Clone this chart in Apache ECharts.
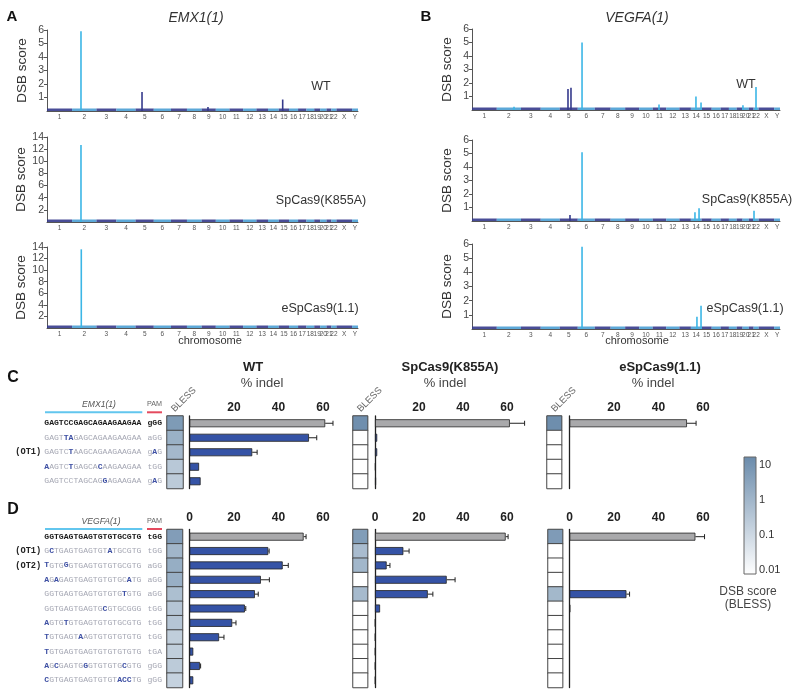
<!DOCTYPE html>
<html><head><meta charset="utf-8">
<script src="https://cdn.jsdelivr.net/npm/echarts@6/dist/echarts.min.js"></script>
<style>html,body{margin:0;padding:0;background:#fff}#c{width:800px;height:697px}</style>
</head><body><div id="c"></div>
<script>
// ================= DATA =================
const chromNames = ['1','2','3','4','5','6','7','8','9','10','11','12','13','14','15','16','17','18','19','20','21','22','X','Y'];
const chromLengthsMb = [249,243,198,191,181,171,159,146,141,136,135,133,115,107,102,90,83,78,59,63,48,51,155,59];

// genome-wide DSB spikes: [cumulative genome position (Mb), DSB score, group (0 light / 1 dark)]
const emx1WT     = [[338,5.9,0],[945,1.4,1],[2344,0.85,1],[1601,0.3,1]];
const emx1K855A  = [[338,12.7,0]];
const emx1eSp    = [[341,13.6,0]];
const vegfaWT    = [[422,0.25,0],[964,1.55,1],[994,1.65,1],[1105,5.0,0],[1878,0.4,0],[2249,1.0,0],[2300,0.55,0],[2721,0.35,0],[2852,1.7,0]];
const vegfaK855A = [[984,0.45,1],[1105,5.09,0],[2239,0.64,0],[2280,0.94,0],[2832,0.76,0]];
const vegfaeSp   = [[1105,5.8,0],[2259,0.87,0],[2300,1.64,0]];

const variants = ['WT','SpCas9(K855A)','eSpCas9(1.1)'];
const indelTicks = [0,20,40,60];

// Panel C: EMX1(1)
const emx1Seqs = ['GAGTCCGAGCAGAAGAAGAA','GAGTTAGAGCAGAAGAAGAA','GAGTCTAAGCAGAAGAAGAA','AAGTCTGAGCACAAGAAGAA','GAGTCCTAGCAGGAGAAGAA'];
const emx1Mism = [[],[4,5],[5],[0,5,11],[12]];
const emx1Pam = ['gGG','aGG','gAG','tGG','gAG'];
const emx1PamMism = [[],[],[1],[],[1]];
const emx1Names = ['','','(OT1)','',''];
const emx1IndelWT = [61,53.7,28.2,4.3,5];
const emx1ErrWT = [3.5,3.5,2.2,0,0];
const emx1IndelK855A = [61.3,1,1,0.3,0.5];
const emx1ErrK855A = [6.7,0,0,0,0];
const emx1IndeleSp = [52.8,0,0,0,0];
const emx1ErreSp = [4.1,0,0,0,0];
const emx1BlessWT = [5.9,1.4,0.85,0.3,0.25];
const emx1BlessK855A = [12.7,0,0,0,0];
const emx1BlesseSp = [13.6,0,0,0,0];

// Panel D: VEGFA(1)
const vegfaSeqs = ['GGTGAGTGAGTGTGTGCGTG','GCTGAGTGAGTGTATGCGTG','TGTGGGTGAGTGTGTGCGTG','AGAGAGTGAGTGTGTGCATG','GGTGAGTGAGTGTGTGTGTG','GGTGAGTGAGTGCGTGCGGG','AGTGTGTGAGTGTGTGCGTG','TGTGAGTAAGTGTGTGTGTG','TGTGAGTGAGTGTGTGTGTG','AGCGAGTGGGTGTGTGCGTG','CGTGAGTGAGTGTGTACCTG'];
const vegfaMism = [[],[1,13],[0,4],[0,2,17],[16],[12],[0,4],[0,7],[0],[0,2,8,16],[0,15,16,17]];
const vegfaPam = ['tGG','tGG','aGG','aGG','aGG','tGG','tGG','tGG','tGA','gGG','gGG'];
const vegfaPamMism = [[],[],[],[],[],[],[],[],[],[],[]];
const vegfaNames = ['','(OT1)','(OT2)','','','','','','','',''];
const vegfaIndelWT = [51.3,35.4,41.9,32.1,29.4,24.9,19.2,13.3,1.7,4.7,1.7];
const vegfaErrWT = [1.1,0.4,2.5,3.8,1.5,0.4,1.7,2.2,0,0.3,0];
const vegfaIndelK855A = [59.4,12.9,5.3,32.6,24,2.3,0.2,0.2,0.2,0.2,0.2];
const vegfaErrK855A = [1.1,2.6,1.5,3.8,2.3,0,0,0,0,0,0];
const vegfaIndeleSp = [56.6,0,0,0,25.6,0.3,0,0,0,0,0];
const vegfaErreSp = [4.1,0,0,0,1.4,0,0,0,0,0,0];
const vegfaBlessWT = [5.0,1.0,1.7,1.55,0.55,0.35,0.35,0.2,0.2,0.25,0.15];
const vegfaBlessK855A = [5.1,0.64,0.94,0,0.76,0,0,0,0,0,0];
const vegfaBlesseSp = [5.8,0,0,0,0.87,0,0,0,0,0,0];

// colour bar (BLESS DSB score, log scale)
const cbTicks = [10,1,0.1,0.01];
const cbTickLabels = ['10','1','0.1','0.01'];
const cbMinScore = 0.0077;
const cbMaxScore = 16.9;

// ================= BUILD =================
const FONT = '"Liberation Sans", Arial, Helvetica, sans-serif';
const MONO = '"Liberation Mono", "DejaVu Sans Mono", monospace';
const LIGHT = '#3bb6e6', DARK = '#353a8c';
const GRAY = '#a9a9ab', BLUE = '#3553a6';

const grids=[], xAxes=[], yAxes=[], series=[], graphics=[], heatIdx=[];

const chromStarts=[]; let acc=0;
chromLengthsMb.forEach(l=>{chromStarts.push(acc); acc+=l;});
const genomeTotal = acc;
const chromCenters = chromLengthsMb.map((l,i)=>chromStarts[i]+l/2);

function chromPanel(o){
  const gi = grids.length;
  grids.push({left:o.left, top:o.top, width:o.width, height:o.height});
  xAxes.push({gridIndex:gi, type:'value', min:0, max:genomeTotal, splitLine:{show:false},
    axisLine:{lineStyle:{color:'#555',width:1}}, axisTick:{show:false},
    axisLabel:{customValues:chromCenters, fontSize:6.5, color:'#555', margin:3,
      formatter:v=>{const i=chromCenters.findIndex(c=>Math.abs(c-v)<1e-6); return i>=0?chromNames[i]:'';}}});
  yAxes.push({gridIndex:gi, type:'value', min:0, max:o.ymax, interval:o.yint, splitLine:{show:false},
    axisLine:{show:true,lineStyle:{color:'#555'}}, axisTick:{show:true,length:3,lineStyle:{color:'#555'}},
    axisLabel:{showMinLabel:false, fontSize:10.5, color:'#444', margin:3},
    name:'DSB score', nameLocation:'middle', nameGap:18, nameTextStyle:{fontSize:13.5,color:'#333'}});
  series.push({type:'custom', xAxisIndex:gi, yAxisIndex:gi, silent:true,
    data: chromLengthsMb.map((l,i)=>[chromStarts[i], chromStarts[i]+l, i]),
    renderItem:(p,api)=>{
      const a=api.coord([api.value(0),0]), b=api.coord([api.value(1),0]);
      return {type:'rect', shape:{x:a[0], y:a[1]-2.5, width:b[0]-a[0], height:2.5},
        style:{fill: api.value(2)%2 ? '#4a9fd4' : DARK, opacity:0.9}};
    }});
  series.push({type:'custom', xAxisIndex:gi, yAxisIndex:gi, silent:true, data:o.spikes,
    renderItem:(p,api)=>{
      const a=api.coord([api.value(0),0]), b=api.coord([api.value(0),api.value(1)]);
      return {type:'line', shape:{x1:a[0],y1:a[1],x2:b[0],y2:b[1]},
        style:{stroke: api.value(2) ? DARK : LIGHT, lineWidth:1.6}};
    }});
}

function barPanel(o){
  const gi = grids.length;
  grids.push({left:o.left, top:o.top, width:o.width, height:o.height});
  xAxes.push({gridIndex:gi, type:'value', position:'top', min:0, max:65, offset:o.offset||0,
    splitLine:{show:false}, axisLine:{lineStyle:{color:'#333',width:1}},
    axisTick:{customValues:indelTicks, length:6, lineStyle:{color:'#333'}},
    axisLabel:{customValues:o.labelTicks, fontSize:12, fontWeight:'bold', color:'#222', margin:2}});
  yAxes.push({gridIndex:gi, type:'category', inverse:true, data:o.values.map((_,i)=>'r'+i),
    axisLine:{show:true,lineStyle:{color:'#222',width:1.3}}, axisTick:{show:false},
    axisLabel:{show:false}, splitLine:{show:false}});
  series.push({type:'bar', xAxisIndex:gi, yAxisIndex:gi, data:o.values, barWidth:8, silent:true,
    itemStyle:{color:p=>p.dataIndex===0?GRAY:BLUE, borderColor:'#222', borderWidth:0.8}});
  series.push({type:'custom', xAxisIndex:gi, yAxisIndex:gi, silent:true,
    data:o.values.map((v,i)=>[v,i,o.errs[i]]).filter(d=>d[2]>0),
    renderItem:(p,api)=>{
      const v=api.value(0), r=api.value(1), e=api.value(2);
      const a=api.coord([v,r]), b=api.coord([v+e,r]);
      return {type:'group', children:[
        {type:'line', shape:{x1:a[0],y1:a[1],x2:b[0],y2:b[1]}, style:{stroke:'#222',lineWidth:1}},
        {type:'line', shape:{x1:b[0],y1:b[1]-2.5,x2:b[0],y2:b[1]+2.5}, style:{stroke:'#222',lineWidth:1}}]};
    }});
}

const RICH = {
  t:{fontFamily:MONO,fontSize:8.1,fontWeight:'bold',color:'#1a1a1a'},
  g:{fontFamily:MONO,fontSize:8.1,color:'#a6a8b4'},
  m:{fontFamily:MONO,fontSize:8.1,fontWeight:'bold',color:'#3d4fa3'},
  o:{fontFamily:MONO,fontSize:8.7,fontWeight:'bold',color:'#222'},
  s:{fontFamily:MONO,fontSize:5},
  p:{fontFamily:MONO,fontSize:10}
};
function seqLabel(seq, mism, pam, pamMism, isTarget, name){
  const seg=(str,hl)=>{
    let r='', cur=null, buf='';
    for(let i=0;i<str.length;i++){
      const st = isTarget?'t':(hl.includes(i)?'m':'g');
      if(st!==cur){ if(buf) r+='{'+cur+'|'+buf+'}'; cur=st; buf=''; }
      buf+=str[i];
    }
    if(buf) r+='{'+cur+'|'+buf+'}';
    return r;
  };
  let out='';
  if(name) out+='{o|'+name+'}{s| }';
  return out + seg(seq,mism) + '{p| }' + seg(pam,pamMism);
}

function blessPanel(o){
  const gi = grids.length;
  grids.push({left:o.left, top:o.top, width:o.width, height:o.height});
  xAxes.push({gridIndex:gi, type:'category', position:'top', data:['BLESS'],
    axisLine:{show:false}, axisTick:{show:false}, splitLine:{show:false}, axisLabel:{show:false}});
  yAxes.push({gridIndex:gi, type:'category', inverse:true, data:o.scores.map((_,i)=>'r'+i),
    axisLine:{show:false}, axisTick:{show:false}, splitLine:{show:false},
    axisLabel:{show:!!o.labels, interval:0, hideOverlap:false, margin:5, rich:RICH,
      formatter:(v,i)=>o.labels?o.labels[i]:''}});
  heatIdx.push(series.length);
  series.push({type:'heatmap', xAxisIndex:gi, yAxisIndex:gi, silent:true,
    data:o.scores.map((s,i)=>[0,i,Math.log10(Math.max(s,cbMinScore))]),
    itemStyle:{borderColor:'#444',borderWidth:1}, emphasis:{disabled:true}});
  if(o.header){
    graphics.push({type:'text', x:o.left+6, y:o.top-5.5, rotation:Math.PI/4, silent:true,
      style:{text:'BLESS', fontSize:9.5, fontFamily:FONT, fill:'#666', align:'left', verticalAlign:'middle'}});
  }
}

// ---- Panel A / B ----
chromPanel({left:47, top:30, width:311, height:81, ymax:6, yint:1, spikes:emx1WT});
chromPanel({left:47, top:137, width:311, height:85, ymax:14, yint:2, spikes:emx1K855A});
chromPanel({left:47, top:247, width:311, height:81, ymax:14, yint:2, spikes:emx1eSp});
chromPanel({left:472, top:29, width:308, height:81, ymax:6, yint:1, spikes:vegfaWT});
chromPanel({left:472, top:140, width:308, height:81, ymax:6, yint:1, spikes:vegfaK855A});
chromPanel({left:472, top:244, width:308, height:85, ymax:6, yint:1, spikes:vegfaeSp});

// ---- Panel C ----
const emx1Labels = emx1Seqs.map((s,i)=>seqLabel(s,emx1Mism[i],emx1Pam[i],emx1PamMism[i],i===0,emx1Names[i]));
blessPanel({left:167,width:16,top:416,height:72.5,scores:emx1BlessWT,labels:emx1Labels,header:true});
blessPanel({left:353,width:14.6,top:416,height:72.5,scores:emx1BlessK855A,header:true});
blessPanel({left:547,width:14.6,top:416,height:72.5,scores:emx1BlesseSp,header:true});
barPanel({left:189.5,width:144.6,top:416,height:72.5,values:emx1IndelWT,errs:emx1ErrWT,labelTicks:[20,40,60]});
barPanel({left:375,width:143,top:416,height:72.5,values:emx1IndelK855A,errs:emx1ErrK855A,labelTicks:[20,40,60]});
barPanel({left:569.5,width:144.6,top:416,height:72.5,values:emx1IndeleSp,errs:emx1ErreSp,labelTicks:[20,40,60]});

// ---- Panel D ----
const vegfaLabels = vegfaSeqs.map((s,i)=>seqLabel(s,vegfaMism[i],vegfaPam[i],vegfaPamMism[i],i===0,vegfaNames[i]));
blessPanel({left:167,width:15.5,top:529.5,height:158,scores:vegfaBlessWT,labels:vegfaLabels});
blessPanel({left:353,width:14.6,top:529.5,height:158,scores:vegfaBlessK855A});
blessPanel({left:548,width:14.6,top:529.5,height:158,scores:vegfaBlesseSp});
barPanel({left:189.5,width:144.6,top:529.5,height:158,values:vegfaIndelWT,errs:vegfaErrWT,labelTicks:indelTicks,offset:3.5});
barPanel({left:375,width:143,top:529.5,height:158,values:vegfaIndelK855A,errs:vegfaErrK855A,labelTicks:indelTicks,offset:3.5});
barPanel({left:569.5,width:144.6,top:529.5,height:158,values:vegfaIndeleSp,errs:vegfaErreSp,labelTicks:indelTicks,offset:3.5});

// ---- colour bar ----
const cbLo = Math.log10(cbMinScore), cbHi = Math.log10(cbMaxScore);
const cbTickPos = cbTicks.map(t=>Math.log10(t));
{
  const gi = grids.length;
  grids.push({left:744, top:457, width:12, height:117});
  xAxes.push({gridIndex:gi, type:'value', min:0, max:1, show:false});
  yAxes.push({gridIndex:gi, type:'value', position:'right', min:cbLo, max:cbHi, splitLine:{show:false},
    axisLine:{show:false}, axisTick:{show:true, customValues:cbTickPos, length:4, lineStyle:{color:'#444'}},
    axisLabel:{customValues:cbTickPos, fontSize:11, color:'#333', margin:3,
      formatter:v=>{const i=cbTickPos.findIndex(t=>Math.abs(t-v)<1e-6); return i>=0?cbTickLabels[i]:'';}}});
  series.push({type:'custom', xAxisIndex:gi, yAxisIndex:gi, silent:true, data:[[0,cbLo,1,cbHi]],
    renderItem:(p,api)=>{
      const a=api.coord([api.value(0),api.value(1)]), b=api.coord([api.value(2),api.value(3)]);
      return {type:'rect', shape:{x:a[0], y:b[1], width:b[0]-a[0], height:a[1]-b[1]},
        style:{fill:new echarts.graphic.LinearGradient(0,0,0,1,[{offset:0,color:'#6a8bab'},{offset:1,color:'#ffffff'}]),
          stroke:'#666', lineWidth:1}};
    }});
}

// ---- texts & decorations ----
function txt(x,y,text,size,extra){
  graphics.push({type:'text', x, y, silent:true,
    style:Object.assign({text, fontSize:size, fontFamily:FONT, fill:'#222', align:'center', verticalAlign:'middle'}, extra||{})});
}
function ln(x1,y1,x2,y2,color,w){
  graphics.push({type:'line', silent:true, shape:{x1,y1,x2,y2}, style:{stroke:color, lineWidth:w}});
}
txt(12,17,'A',15,{fontWeight:'bold',fill:'#111'});
txt(426,17,'B',15,{fontWeight:'bold',fill:'#111'});
txt(13,378,'C',16,{fontWeight:'bold',fill:'#111'});
txt(13,510,'D',16,{fontWeight:'bold',fill:'#111'});
txt(196,18,'EMX1(1)',14,{fontStyle:'italic',fill:'#333'});
txt(637,18,'VEGFA(1)',14,{fontStyle:'italic',fill:'#333'});
txt(321,87,variants[0],12.5,{fill:'#333'});
txt(321,201,variants[1],12.5,{fill:'#333'});
txt(320,309,variants[2],12.5,{fill:'#333'});
txt(746,85,variants[0],12.5,{fill:'#333'});
txt(747,200,variants[1],12.5,{fill:'#333'});
txt(745,309,variants[2],12.5,{fill:'#333'});
txt(210,341,'chromosome',11,{fill:'#333'});
txt(637,341,'chromosome',11,{fill:'#333'});
txt(253,367,variants[0],13,{fontWeight:'bold',fill:'#222'});
txt(450,367,variants[1],13,{fontWeight:'bold',fill:'#222'});
txt(660,367,variants[2],13,{fontWeight:'bold',fill:'#222'});
txt(262,383,'% indel',13,{fill:'#444'});
txt(445,383,'% indel',13,{fill:'#444'});
txt(653,383,'% indel',13,{fill:'#444'});
txt(99,404.5,'EMX1(1)',8.6,{fontStyle:'italic',fill:'#555'});
txt(154.5,404.5,'PAM',7.2,{fill:'#666'});
ln(45,412.3,142.3,412.3,'#62c6ee',2);
ln(147,412.3,162,412.3,'#e44a5e',2);
txt(101,521.5,'VEGFA(1)',8.6,{fontStyle:'italic',fill:'#555'});
txt(154.5,521.5,'PAM',7.2,{fill:'#666'});
ln(45,529,142.3,529,'#62c6ee',2);
ln(147,529,162,529,'#e44a5e',2);
txt(748,592,'DSB score',12,{fill:'#444'});
txt(748,605,'(BLESS)',12,{fill:'#444'});

const chart = echarts.init(document.getElementById('c'));
chart.setOption({
  animation:false,
  textStyle:{fontFamily:FONT},
  grid:grids, xAxis:xAxes, yAxis:yAxes, series:series, graphic:graphics,
  visualMap:[{type:'continuous', show:false, seriesIndex:heatIdx, dimension:2, min:cbLo, max:cbHi,
    inRange:{color:['#ffffff','#6a8bab']}}]
});
</script>
</body></html>
